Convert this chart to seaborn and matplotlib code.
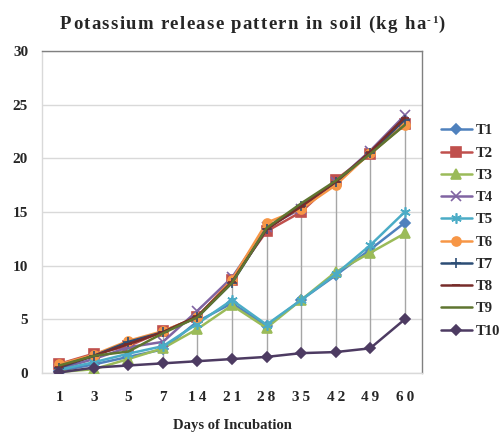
import matplotlib
matplotlib.use("Agg")
import matplotlib.pyplot as plt
import seaborn as sns
import pandas as pd
import numpy as np

days = ["1", "3", "5", "7", "14", "21", "28", "35", "42", "49", "60"]
T1 = [0.2, 0.8, 1.5, 2.2, 4.8, 6.5, 4.4, 6.8, 9.1, 11.5, 14.0]
T2 = [0.85, 1.8, 2.5, 3.9, 5.2, 8.7, 13.2, 15.0, 18.0, 20.4, 23.2]
T3 = [0.1, 0.35, 1.3, 2.3, 4.1, 6.3, 4.2, 6.8, 9.4, 11.2, 13.0]
T4 = [0.4, 1.3, 2.4, 2.9, 5.8, 8.9, 13.6, 15.3, 17.8, 20.7, 24.0]
T5 = [0.3, 1.0, 1.8, 2.5, 4.6, 6.8, 4.5, 6.8, 9.2, 11.9, 15.0]
T6 = [0.8, 1.7, 3.0, 3.9, 5.2, 8.7, 14.0, 15.3, 17.5, 20.5, 23.1]
T7 = [0.5, 1.6, 2.9, 3.8, 5.2, 8.4, 13.4, 15.6, 17.8, 20.5, 23.6]
T8 = [0.6, 1.6, 2.7, 3.8, 5.3, 8.5, 13.4, 15.5, 17.8, 20.6, 23.8]
T9 = [0.7, 1.6, 2.0, 3.7, 5.2, 8.4, 13.5, 15.8, 17.9, 20.4, 23.1]
T10 = [0.05, 0.5, 0.7, 0.9, 1.1, 1.3, 1.5, 1.85, 1.95, 2.3, 5.0]

names = ["T1", "T2", "T3", "T4", "T5", "T6", "T7", "T8", "T9", "T10"]
series = [T1, T2, T3, T4, T5, T6, T7, T8, T9, T10]
colors = ["#4F81BD", "#C0504D", "#9BBB59", "#8064A2", "#4BACC6",
          "#F79646", "#2C4D75", "#772C2A", "#5F7530", "#4D3B62"]
markers = ["D", "s", "^", "x", (6, 2, 0), "o", "+", "_", "None", "D"]
msizes = [5.5, 6.5, 6.5, 6.5, 7.5, 6.5, 7.5, 6, 0, 5]

title_main = "Potassium release pattern in soil (kg ha"
title_sup = "-1"
title_end = ")"

rows = []
for n, s in zip(names, series):
    for i, v in enumerate(s):
        rows.append({"Treatment": n, "pos": i, "K": v})
df = pd.DataFrame(rows)

sns.set_theme(style="white")
plt.rcParams["font.family"] = ["Liberation Serif", "DejaVu Serif"]
plt.rcParams["font.weight"] = "bold"

fig = plt.figure(figsize=(5.01, 4.32), dpi=100)
ax = fig.add_axes([42/501, 59/432, 380/501, 322/432])

# high-low drop lines
wide = df.pivot(index="pos", columns="Treatment", values="K")
ax.vlines(wide.index, wide.min(axis=1), wide.max(axis=1), color="#a6a6a6", lw=1.0, zorder=1)

for n, c, m, ms in zip(names, colors, markers, msizes):
    sub = df[df["Treatment"] == n]
    sns.lineplot(data=sub, x="pos", y="K", color=c, marker=m, markersize=ms,
                 markeredgecolor=c, markerfacecolor=c, markeredgewidth=1.2,
                 lw=1.8, label=n, ax=ax, zorder=3)

ax.set_xlim(-0.5, 10.5)
ax.set_ylim(0, 30)
ax.set_yticks(range(0, 31, 5))
ax.set_xticks(range(len(days)))
ax.set_xticklabels(["\u2009".join(d) for d in days])
ax.grid(axis="y", color="#d9d9d9", lw=1)
ax.grid(axis="x", visible=False)
ax.set_axisbelow(True)
ax.tick_params(axis="y", length=0, pad=10, labelsize=11)
ax.tick_params(axis="x", length=0, pad=13, labelsize=11)
for lab in ax.get_xticklabels() + ax.get_yticklabels():
    lab.set_fontweight("bold")
for sp in ["top", "right"]:
    ax.spines[sp].set_color("#808080")
for sp in ["left", "bottom"]:
    ax.spines[sp].set_color("#d9d9d9")
for sp in ax.spines.values():
    sp.set_linewidth(1)

ax.set_xlabel("Days of Incubation", fontsize=10.5, fontweight="bold", labelpad=11)
ax.set_ylabel("")

# letter-spaced title
renderer = fig.canvas.get_renderer()
fs = 13.5
spacing = 1.3  # px

def width_of(s, size):
    t = fig.text(0, 0, s, fontsize=size, fontweight="bold")
    w = t.get_window_extent(renderer).width
    t.remove()
    return w

pieces = []
for ch in title_main:
    pieces.append((ch, fs, 0.0))
for ch in title_sup:
    pieces.append((ch, 8, 6.0))
pieces.append((title_end, fs, 0.0))

xs = []
cur = 0.0
for ch, size, dy in pieces:
    xs.append(cur)
    w = width_of(ch if ch != " " else "\u00a0", size)
    cur += w + spacing
total = cur - spacing
W, H = fig.bbox.width, fig.bbox.height
x0 = 0.5 * W + 2 - total / 2
ybase = H - 29
for (ch, size, dy), xp in zip(pieces, xs):
    if ch == " ":
        continue
    fig.text((x0 + xp) / W, (ybase + dy) / H, ch, fontsize=size, fontweight="bold",
             ha="left", va="baseline")

h, l = ax.get_legend_handles_labels()
ax.legend(h, l, loc="center left", bbox_to_anchor=(1.035, 0.5 - (243-212)/322 + 12/322),
          frameon=False, fontsize=10.5, handlelength=2.1, handletextpad=0.3,
          labelspacing=0.62, borderaxespad=0)
for t in ax.get_legend().get_texts():
    t.set_fontweight("bold")

fig.savefig("out.png", dpi=100)
